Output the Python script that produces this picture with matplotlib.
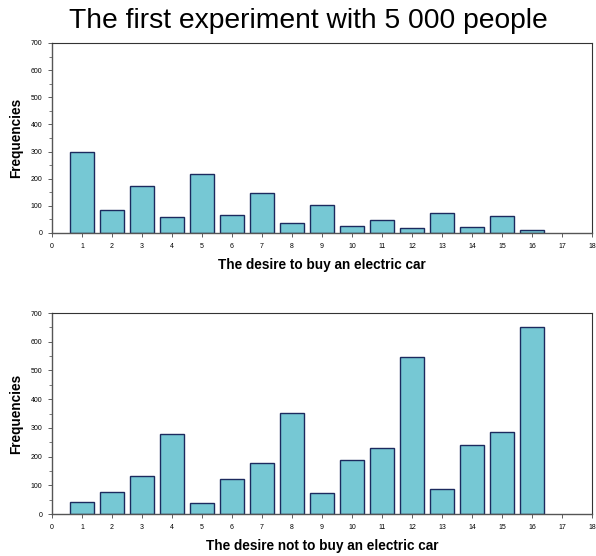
import matplotlib
matplotlib.use("Agg")
import matplotlib.pyplot as plt
from matplotlib.ticker import MultipleLocator

plt.rcParams['font.family'] = ['Liberation Sans', 'DejaVu Sans']

# Données
categories = list(range(1, 17))
desire_buy = [300, 85, 172, 58, 216, 68, 149, 38, 104, 26, 47, 20, 72, 23, 62, 11]
desire_not_buy = [41, 77, 133, 278, 37, 121, 179, 353, 72, 188, 231, 547, 87, 240, 286, 650]
x_ticks = list(range(0, 19))

fig = plt.figure(figsize=(5.96, 5.56), dpi=100)
fig.text(0.518, 0.962, "The first experiment with 5 000 people", fontsize=20.3,
         ha='center', va='center')

ax1 = fig.add_axes([0.0872, 0.581, 0.906, 0.3417])
ax2 = fig.add_axes([0.0872, 0.0755, 0.906, 0.3615])

for ax, values, xlabel in [(ax1, desire_buy, "The desire to buy an electric car"),
                           (ax2, desire_not_buy, "The desire not to buy an electric car")]:
    ax.bar(categories, values, width=0.8, color='#76c8d4', edgecolor='#1c2a5e', linewidth=1.0)
    ax.set_xlim(0, 18)
    ax.set_ylim(0, 700)
    ax.set_xticks(x_ticks)
    ax.set_yticks(range(0, 701, 100))
    ax.yaxis.set_minor_locator(MultipleLocator(50))
    ax.tick_params(labelsize=5, length=3, width=0.6, color='#444444', pad=4)
    ax.tick_params(which='minor', length=2, width=0.5, color='#444444')
    ax.set_xlabel(xlabel, fontsize=9.8, fontweight='bold', labelpad=6)
    ax.set_ylabel("Frequencies", fontsize=9.8, fontweight='bold', labelpad=5)
    for side in ['left', 'bottom']:
        ax.spines[side].set_color('#555555')
        ax.spines[side].set_linewidth(1.0)
    for side in ['top', 'right']:
        ax.spines[side].set_color('#333333')
        ax.spines[side].set_linewidth(0.8)

fig.savefig("out.png", dpi=100)
